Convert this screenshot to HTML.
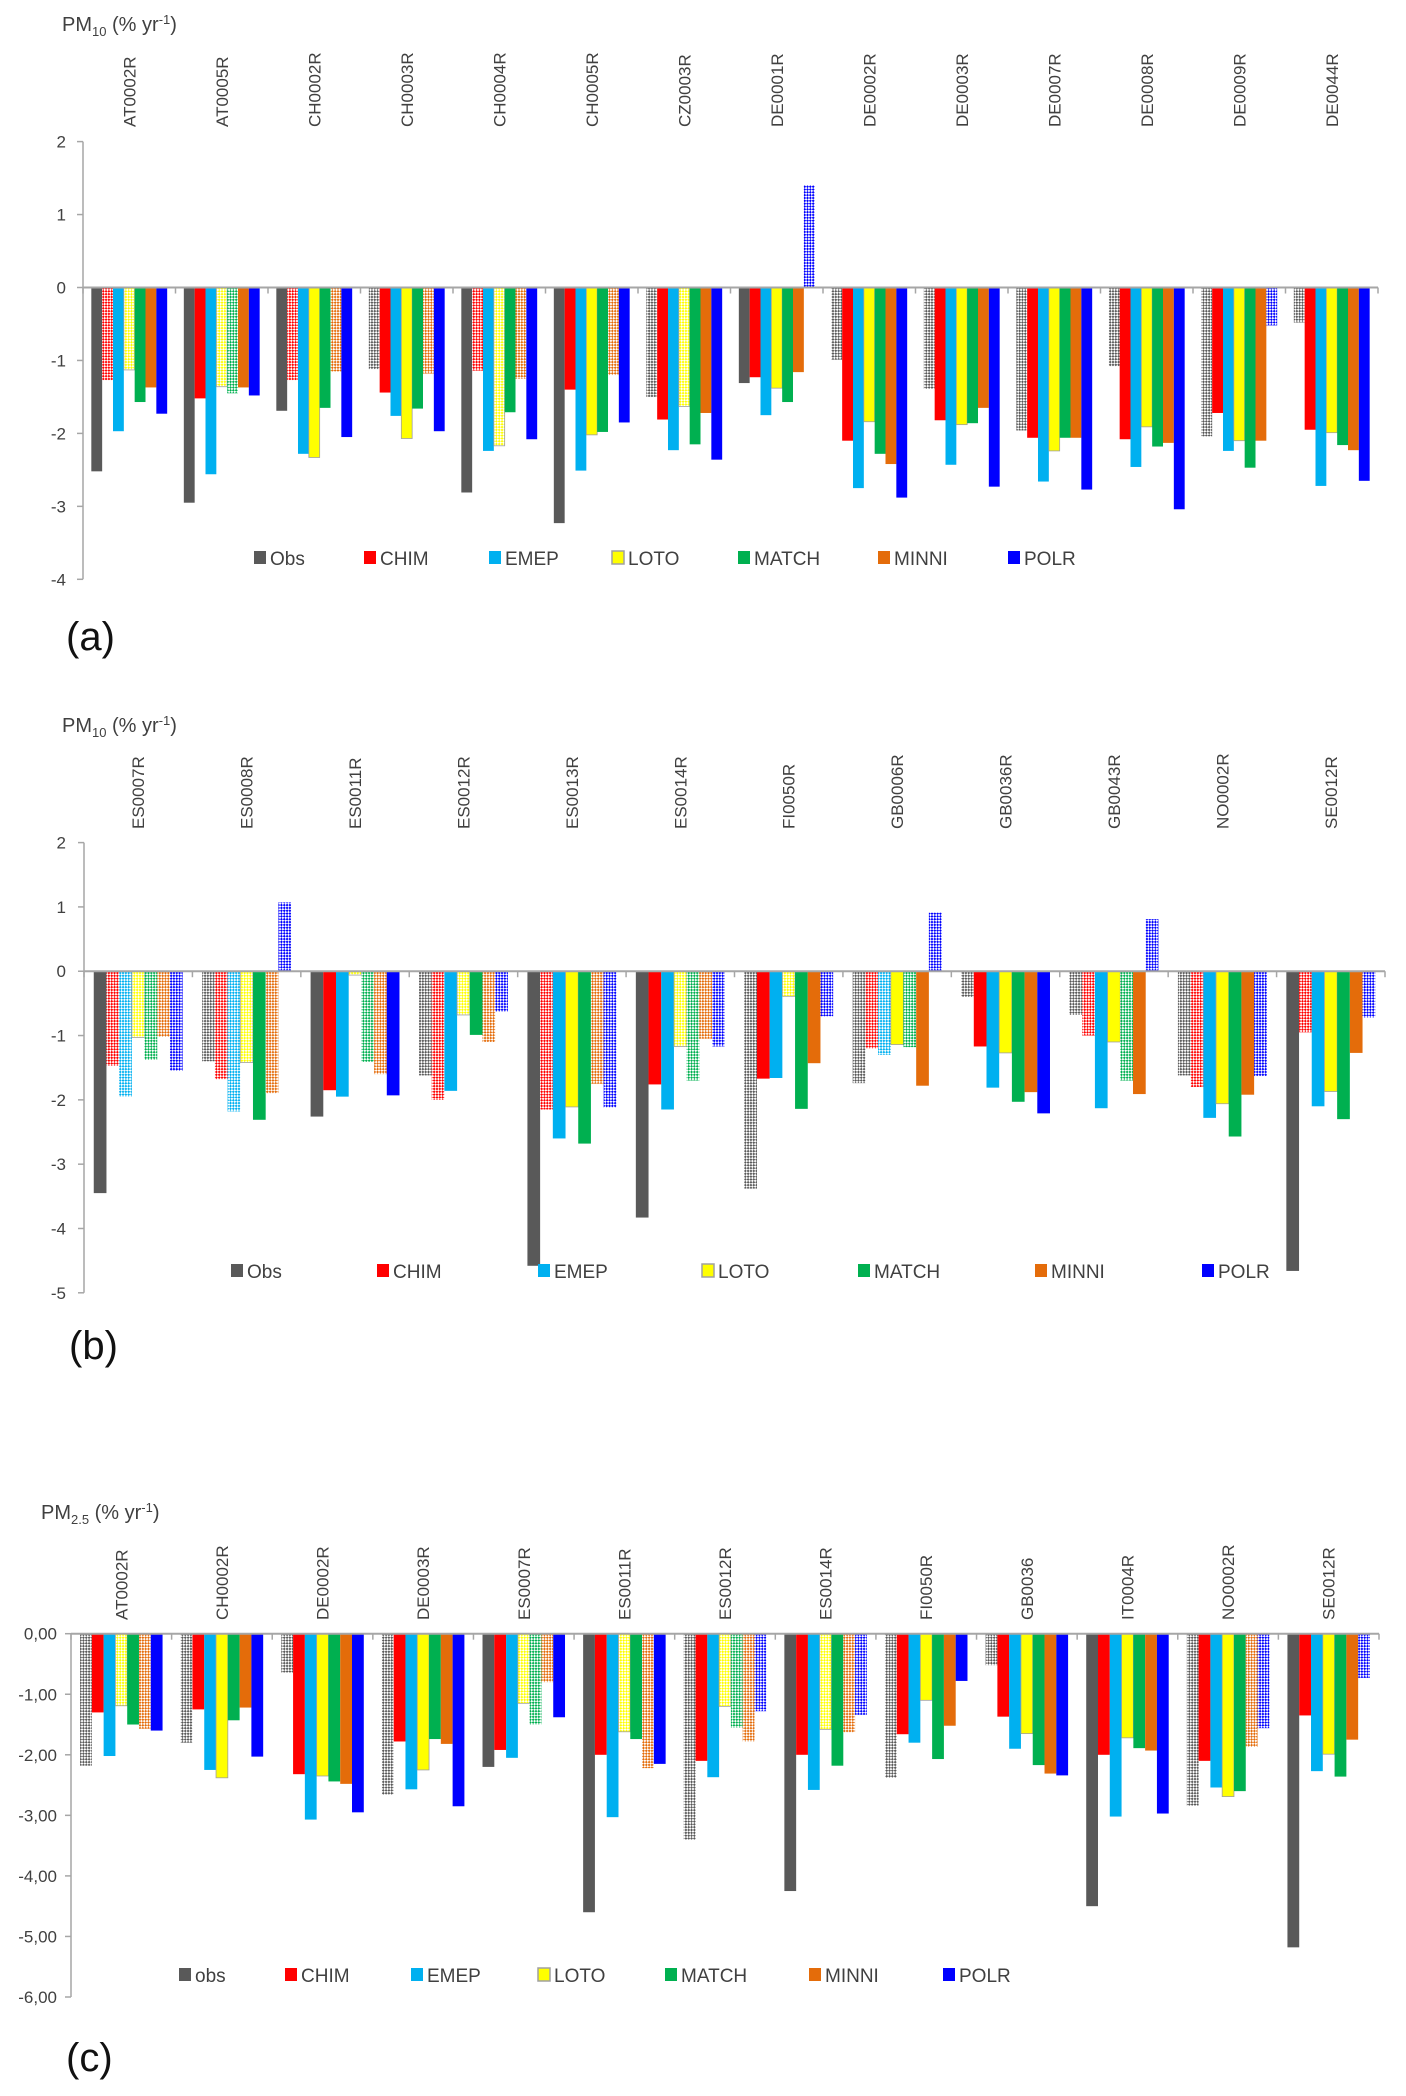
<!DOCTYPE html>
<html><head><meta charset="utf-8">
<style>
html,body{margin:0;padding:0;background:#fff;}
svg{display:block;font-family:"Liberation Sans",Arial,sans-serif;}
</style></head>
<body>
<svg id="fig" width="1406" height="2096" viewBox="0 0 1406 2096" xmlns="http://www.w3.org/2000/svg">
<defs id="defs"></defs>
</svg>
<script>
// ---------- Panel (a) data: PM10 ----------
const catsA = ["AT0002R","AT0005R","CH0002R","CH0003R","CH0004R","CH0005R","CZ0003R","DE0001R","DE0002R","DE0003R","DE0007R","DE0008R","DE0009R","DE0044R"];
const aObs   = [-2.52,-2.95,-1.69,-1.12,-2.81,-3.23,-1.50,-1.31,-0.99,-1.39,-1.96,-1.08,-2.04,-0.48];
const aChim  = [-1.27,-1.52,-1.27,-1.44,-1.14,-1.40,-1.81,-1.23,-2.10,-1.82,-2.06,-2.08,-1.72,-1.95];
const aEmep  = [-1.97,-2.56,-2.28,-1.76,-2.24,-2.51,-2.23,-1.75,-2.75,-2.43,-2.66,-2.46,-2.24,-2.72];
const aLoto  = [-1.13,-1.36,-2.33,-2.07,-2.17,-2.02,-1.63,-1.38,-1.84,-1.88,-2.24,-1.91,-2.10,-1.99];
const aMatch = [-1.57,-1.45,-1.65,-1.66,-1.71,-1.98,-2.15,-1.57,-2.28,-1.86,-2.06,-2.18,-2.47,-2.16];
const aMinni = [-1.37,-1.37,-1.15,-1.18,-1.25,-1.20,-1.72,-1.16,-2.42,-1.65,-2.06,-2.13,-2.10,-2.23];
const aPolr  = [-1.73,-1.48,-2.05,-1.97,-2.08,-1.85,-2.36,1.40,-2.88,-2.73,-2.77,-3.04,-0.52,-2.65];
const aObsH   = [0,0,0,1,0,0,1,0,1,1,1,1,1,1];
const aChimH  = [1,0,1,0,1,0,0,0,0,0,0,0,0,0];
const aEmepH  = [0,0,0,0,0,0,0,0,0,0,0,0,0,0];
const aLotoH  = [1,1,0,0,1,0,1,0,0,0,0,0,0,0];
const aMatchH = [0,1,0,0,0,0,0,0,0,0,0,0,0,0];
const aMinniH = [0,0,1,1,1,1,0,0,0,0,0,0,0,0];
const aPolrH  = [0,0,0,0,0,0,0,1,0,0,0,0,1,0];
const ticksA = [2,1,0,-1,-2,-3,-4];
const tickLabelsA = ["2","1","0","-1","-2","-3","-4"];

// ---------- Panel (b) data: PM10 ----------
const catsB = ["ES0007R","ES0008R","ES0011R","ES0012R","ES0013R","ES0014R","FI0050R","GB0006R","GB0036R","GB0043R","NO0002R","SE0012R"];
const bObs   = [-3.45,-1.40,-2.26,-1.62,-4.58,-3.83,-3.38,-1.74,-0.40,-0.68,-1.62,-4.66];
const bChim  = [-1.47,-1.68,-1.85,-2.00,-2.15,-1.76,-1.67,-1.20,-1.17,-1.00,-1.80,-0.95];
const bEmep  = [-1.95,-2.18,-1.95,-1.86,-2.60,-2.15,-1.66,-1.30,-1.81,-2.13,-2.28,-2.10];
const bLoto  = [-1.03,-1.42,-0.06,-0.68,-2.11,-1.17,-0.39,-1.14,-1.27,-1.10,-2.06,-1.87];
const bMatch = [-1.38,-2.31,-1.41,-0.99,-2.68,-1.70,-2.14,-1.18,-2.03,-1.70,-2.57,-2.30];
const bMinni = [-1.02,-1.90,-1.60,-1.10,-1.75,-1.05,-1.43,-1.78,-1.88,-1.91,-1.92,-1.27];
const bPolr  = [-1.55,1.07,-1.93,-0.63,-2.12,-1.17,-0.70,0.91,-2.21,0.81,-1.63,-0.72];
const bObsH   = [0,1,0,1,0,0,1,1,1,1,1,0];
const bChimH  = [1,1,0,1,1,0,0,1,0,1,1,1];
const bEmepH  = [1,1,0,0,0,0,0,1,0,0,0,0];
const bLotoH  = [1,1,1,1,0,1,1,0,0,0,0,0];
const bMatchH = [1,0,1,0,0,1,0,1,0,1,0,0];
const bMinniH = [1,1,1,1,1,1,0,0,0,0,0,0];
const bPolrH  = [1,1,0,1,1,1,1,1,0,1,1,1];
const ticksB = [2,1,0,-1,-2,-3,-4,-5];
const tickLabelsB = ["2","1","0","-1","-2","-3","-4","-5"];

// ---------- Panel (c) data: PM2.5 ----------
const catsC = ["AT0002R","CH0002R","DE0002R","DE0003R","ES0007R","ES0011R","ES0012R","ES0014R","FI0050R","GB0036","IT0004R","NO0002R","SE0012R"];
const cObs   = [-2.18,-1.80,-0.64,-2.66,-2.20,-4.60,-3.40,-4.25,-2.38,-0.52,-4.50,-2.84,-5.18];
const cChim  = [-1.30,-1.25,-2.32,-1.78,-1.92,-2.00,-2.10,-2.00,-1.66,-1.37,-2.00,-2.10,-1.35];
const cEmep  = [-2.02,-2.25,-3.07,-2.57,-2.05,-3.03,-2.37,-2.58,-1.80,-1.90,-3.02,-2.54,-2.27];
const cLoto  = [-1.19,-2.38,-2.35,-2.25,-1.15,-1.62,-1.20,-1.58,-1.10,-1.65,-1.72,-2.69,-1.99];
const cMatch = [-1.50,-1.43,-2.44,-1.74,-1.50,-1.74,-1.55,-2.18,-2.07,-2.17,-1.89,-2.60,-2.36];
const cMinni = [-1.57,-1.22,-2.48,-1.82,-0.80,-2.22,-1.78,-1.63,-1.52,-2.31,-1.93,-1.87,-1.75];
const cPolr  = [-1.60,-2.03,-2.95,-2.85,-1.38,-2.15,-1.28,-1.34,-0.78,-2.34,-2.97,-1.56,-0.73];
const cObsH   = [1,1,1,1,0,0,1,0,1,1,0,1,0];
const cChimH  = [0,0,0,0,0,0,0,0,0,0,0,0,0];
const cEmepH  = [0,0,0,0,0,0,0,0,0,0,0,0,0];
const cLotoH  = [1,0,0,0,1,1,1,1,0,0,0,0,0];
const cMatchH = [0,0,0,0,1,0,1,0,0,0,0,0,0];
const cMinniH = [1,0,0,0,1,1,1,1,0,0,0,1,0];
const cPolrH  = [0,0,0,0,0,0,1,1,0,0,0,1,1];
const ticksC = [0,-1,-2,-3,-4,-5,-6];
const tickLabelsC = ["0,00","-1,00","-2,00","-3,00","-4,00","-5,00","-6,00"];

const seriesNames = ["Obs","CHIM","EMEP","LOTO","MATCH","MINNI","POLR"];
const seriesNamesC = ["obs","CHIM","EMEP","LOTO","MATCH","MINNI","POLR"];
const colors = ["#595959","#ff0000","#00b0f0","#ffff00","#00b050","#e46c0a","#0000ff"];

const NS = "http://www.w3.org/2000/svg";
const svg = document.getElementById("fig");
const defs = document.getElementById("defs");

// hatch patterns
colors.forEach((c,i)=>{
  const p = document.createElementNS(NS,"pattern");
  p.setAttribute("id","hatch"+i);
  p.setAttribute("width","4"); p.setAttribute("height","4");
  p.setAttribute("patternUnits","userSpaceOnUse");
  p.setAttribute("patternTransform","rotate(45)");
  p.innerHTML = '<rect width="4" height="4" fill="'+c+'"/><rect x="0" y="0" width="2" height="2" fill="#fff"/><rect x="2" y="2" width="2" height="2" fill="#fff"/>';
  defs.appendChild(p);
});

function el(tag, attrs, parent){
  const e = document.createElementNS(NS, tag);
  for (const k in attrs) e.setAttribute(k, attrs[k]);
  (parent||svg).appendChild(e);
  return e;
}

function drawPanel(cfg){
  const g = el("g",{});
  
  
  const vmax = cfg.ticks[0], vmin = cfg.ticks[cfg.ticks.length-1];
  const y = v => cfg.yTop + (vmax - v) / (vmax - vmin) * (cfg.yBot - cfg.yTop);
  const n = cfg.cats.length;
  const cw = (cfg.x1 - cfg.x0) / n;
  const bw = cw * 0.82 / 7;
  const off = (cw - bw*7)/2;

  // title
  const t = el("text",{x:cfg.titleX, y:cfg.titleY+7, "font-size":"20", fill:"#404040"}, g);
  t.innerHTML = cfg.sub25 ? 'PM<tspan font-size="13" dy="5">2.5</tspan><tspan dy="-5"> (% yr</tspan><tspan font-size="13" dy="-7">-1</tspan><tspan dy="7">)</tspan>'
                          : 'PM<tspan font-size="13" dy="5">10</tspan><tspan dy="-5"> (% yr</tspan><tspan font-size="13" dy="-7">-1</tspan><tspan dy="7">)</tspan>';
  
  

  // y axis
  const ax = el("line",{x1:cfg.x0,x2:cfg.x0,y1:y(vmax),y2:y(vmin),stroke:"#a6a6a6","stroke-width":"1.5"}, g);
  
  
  cfg.ticks.forEach((v,i)=>{
    el("line",{x1:cfg.x0-6,x2:cfg.x0,y1:y(v),y2:y(v),stroke:"#a6a6a6","stroke-width":"1.5"}, g);
    const tl = el("text",{x:cfg.tickX, y:y(v)+6, "font-size":"17", fill:"#404040","text-anchor":"end"}, g);
    tl.textContent = cfg.tickLabels[i];
    
    
  });

  // bars
  cfg.series.forEach((vals, s)=>{
    vals.forEach((v, i)=>{
      const x = cfg.x0 + i*cw + off + s*bw;
      const y0 = y(0), yv = y(v);
      const r = el("rect",{x:x, y:Math.min(y0,yv), width:bw, height:Math.abs(yv-y0),
        fill: cfg.hatch[s][i] ? "url(#hatch"+s+")" : colors[s]}, g);
      if (s===3) { r.setAttribute("stroke","#a0a0a0"); r.setAttribute("stroke-width","0.8"); }
      
      
    });
  });

  // zero line and category ticks
  const zl = el("line",{x1:cfg.x0,x2:cfg.x1,y1:y(0),y2:y(0),stroke:"#a6a6a6","stroke-width":"2"}, g);
  
  
  for (let i=0;i<=n;i++){
    el("line",{x1:cfg.x0+i*cw,x2:cfg.x0+i*cw,y1:y(0),y2:y(0)+6,stroke:"#a6a6a6","stroke-width":"1.5"}, g);
  }

  // category labels
  cfg.cats.forEach((c,i)=>{
    const cx = cfg.x0 + (i+0.5)*cw + 6;
    const ct = el("text",{x:cx, y:cfg.labelBottom, "font-size":"17", fill:"#404040",
      transform:"rotate(-90 "+cx+" "+cfg.labelBottom+")"}, g);
    ct.textContent = c;
    
    
  });

  // legend
  cfg.legendX.forEach((lx,s)=>{
    const lg = el("g",{}, g);
    
    
    const m = el("rect",{x:lx, y:cfg.legendY-7, width:12, height:13, fill:colors[s]}, lg);
    if (s===3){ m.setAttribute("stroke","#a0a0a0"); m.setAttribute("stroke-width","1.5"); }
    const lt = el("text",{x:lx+16, y:cfg.legendY+7, "font-size":"19", fill:"#404040"}, lg);
    lt.textContent = cfg.legendNames[s];
  });

  // panel letter
  const pl = el("text",{x:cfg.letterX, y:cfg.letterY+14, "font-size":"40", fill:"#111"}, g);
  pl.textContent = cfg.letter;
  
  
}

drawPanel({name:"chart-a", cats:catsA, x0:83, x1:1378, yTop:141.6, yBot:579.3, ticks:ticksA, tickLabels:tickLabelsA,
  tickX:66, titleX:62, titleY:24, labelBottom:127, legendY:558,
  legendX:[254,364,489,612,738,878,1008], legendNames:seriesNames, letter:"(a)", letterX:66, letterY:636, sub25:false,
  series:[aObs,aChim,aEmep,aLoto,aMatch,aMinni,aPolr], hatch:[aObsH,aChimH,aEmepH,aLotoH,aMatchH,aMinniH,aPolrH]});

drawPanel({name:"chart-b", cats:catsB, x0:84, x1:1385, yTop:842.6, yBot:1292.8, ticks:ticksB, tickLabels:tickLabelsB,
  tickX:66, titleX:62, titleY:725, labelBottom:829, legendY:1271,
  legendX:[231,377,538,702,858,1035,1202], legendNames:seriesNames, letter:"(b)", letterX:69, letterY:1345, sub25:false,
  series:[bObs,bChim,bEmep,bLoto,bMatch,bMinni,bPolr], hatch:[bObsH,bChimH,bEmepH,bLotoH,bMatchH,bMinniH,bPolrH]});

drawPanel({name:"chart-c", cats:catsC, x0:71, x1:1379, yTop:1633.7, yBot:1997, ticks:ticksC, tickLabels:tickLabelsC,
  tickX:57, titleX:41, titleY:1512, labelBottom:1620, legendY:1975,
  legendX:[179,285,411,538,665,809,943], legendNames:seriesNamesC, letter:"(c)", letterX:66, letterY:2057, sub25:true,
  series:[cObs,cChim,cEmep,cLoto,cMatch,cMinni,cPolr], hatch:[cObsH,cChimH,cEmepH,cLotoH,cMatchH,cMinniH,cPolrH]});
</script>
</body></html>
